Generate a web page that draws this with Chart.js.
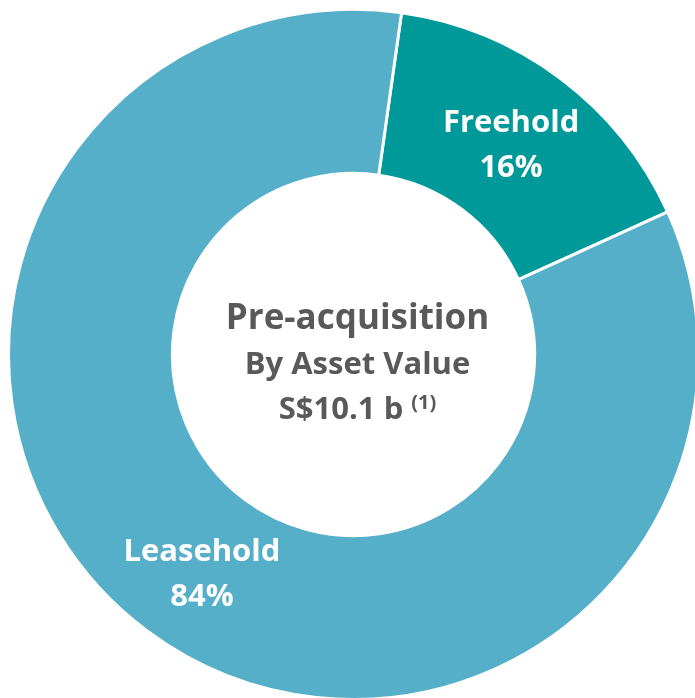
<!DOCTYPE html>
<html>
<head>
<meta charset="utf-8">
<script src="https://cdn.jsdelivr.net/npm/chart.js@4/dist/chart.umd.min.js"></script>
<style>
  html, body { margin: 0; padding: 0; background: #fff; overflow: hidden; width: 695px; height: 698px; }
  #wrap { position: absolute; left: 7px; top: 8px; width: 693px; height: 693px; }
</style>
</head>
<body>
<div id="wrap"><canvas id="myChart"></canvas></div>
<script>
// chart data
var labels = ["Freehold", "Leasehold"];
var shares = [16, 84];
var colours = ["#009999", "#55AFC9"];
var centreLines = ["Pre-acquisition", "By Asset Value", "S$10.1 b"];
var centreNote = "(1)";

var FONT = "'Open Sans', sans-serif";

// labels on each slice, near the arc centroid
var nudge = [[0, -12], [6, -4]];
var sliceLabels = {
  id: "sliceLabels",
  afterDatasetsDraw: function(chart) {
    var ctx = chart.ctx;
    var meta = chart.getDatasetMeta(0);
    ctx.save();
    ctx.fillStyle = "#ffffff";
    ctx.textAlign = "center";
    ctx.textBaseline = "alphabetic";
    ctx.font = "bold 31px " + FONT;
    meta.data.forEach(function(arc, i) {
      var p = arc.tooltipPosition();
      var x = p.x + nudge[i][0], y = p.y + nudge[i][1];
      ctx.fillText(labels[i], x, y);
      ctx.fillText(shares[i] + "%", x, y + 45);
    });
    ctx.restore();
  }
};

var centreText = {
  id: "centreText",
  afterDraw: function(chart) {
    var ctx = chart.ctx;
    var arc = chart.getDatasetMeta(0).data[0];
    var cx = arc.x + 4, cy = arc.y;
    ctx.save();
    ctx.fillStyle = "#595959";
    ctx.textAlign = "center";
    ctx.textBaseline = "alphabetic";
    ctx.font = "bold 35px " + FONT;
    ctx.fillText(centreLines[0], cx, cy - 26);
    ctx.font = "bold 31px " + FONT;
    ctx.fillText(centreLines[1], cx, cy + 19);
    var w = ctx.measureText(centreLines[2]).width;
    ctx.font = "bold 20px " + FONT;
    var w2 = ctx.measureText(centreNote).width;
    var start = cx - (w + 8 + w2) / 2;
    ctx.textAlign = "left";
    ctx.font = "bold 31px " + FONT;
    ctx.fillText(centreLines[2], start, cy + 64);
    ctx.font = "bold 20px " + FONT;
    ctx.fillText(centreNote, start + w + 8, cy + 54);
    ctx.restore();
  }
};

var ctx = document.getElementById('myChart').getContext('2d');
var chart = new Chart(ctx, {
  type: 'doughnut',
  data: {
    labels: labels,
    datasets: [{
      data: shares,
      backgroundColor: colours,
      borderColor: '#ffffff',
      borderWidth: 3
    }]
  },
  options: {
    responsive: true,
    maintainAspectRatio: false,
    animation: false,
    rotation: 8,
    cutout: '52.5%',
    layout: { padding: 0 },
    plugins: {
      legend: { display: false },
      tooltip: { enabled: false }
    }
  },
  plugins: [sliceLabels, centreText]
});
</script>
</body>
</html>
